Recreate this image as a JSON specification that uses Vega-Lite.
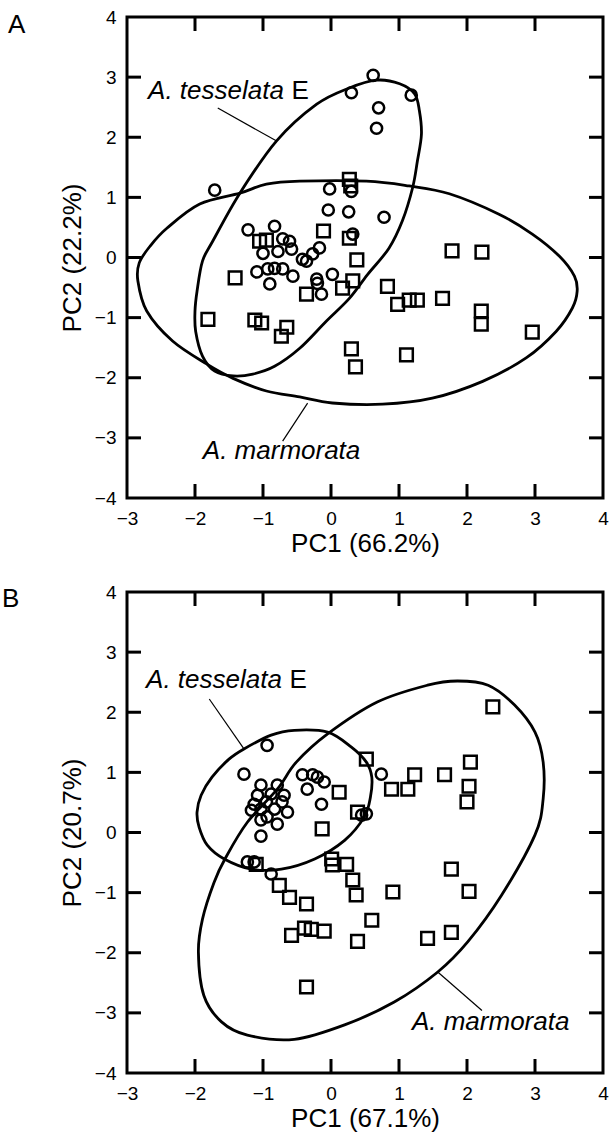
{
  "$schema": "https://vega.github.io/schema/vega-lite/v6.json",
  "padding": {"left": 0, "top": 6, "right": 0, "bottom": 0},
  "spacing": 23,
  "columns": 1,
  "align": "none",
  "config": {
    "font": "Liberation Sans",
    "view": {"stroke": "black", "strokeWidth": 3},
    "axis": {
      "ticks": false, "domain": false, "grid": false, "format": "d",
      "labelFontSize": 19, "labelColor": "black", "labelFont": "Liberation Sans",
      "titleFont": "Liberation Sans", "titleFontSize": 26, "titleFontWeight": "normal", "titleColor": "black",
      "labelPadding": 11, "labelFlush": false, "labelOverlap": false
    }
  },
  "datasets": {
    "tx": [{"v":-2},{"v":-1},{"v":0},{"v":1},{"v":2},{"v":3}],
    "ty": [{"v":-3},{"v":-2},{"v":-1},{"v":0},{"v":1},{"v":2},{"v":3}],
    "ellA": [
      {"e":"t","i":0,"x":0.67,"y":2.95},{"e":"t","i":1,"x":1.01,"y":2.89},{"e":"t","i":2,"x":1.23,"y":2.72},{"e":"t","i":3,"x":1.30,"y":2.44},{"e":"t","i":4,"x":1.33,"y":2.05},{"e":"t","i":5,"x":1.27,"y":1.60},{"e":"t","i":6,"x":1.20,"y":1.16},{"e":"t","i":7,"x":1.05,"y":0.61},{"e":"t","i":8,"x":0.85,"y":0.15},{"e":"t","i":9,"x":0.54,"y":-0.28},{"e":"t","i":10,"x":0.27,"y":-0.68},{"e":"t","i":11,"x":-0.07,"y":-1.06},{"e":"t","i":12,"x":-0.46,"y":-1.51},{"e":"t","i":13,"x":-0.83,"y":-1.81},{"e":"t","i":14,"x":-1.15,"y":-1.94},{"e":"t","i":15,"x":-1.44,"y":-1.97},{"e":"t","i":16,"x":-1.71,"y":-1.89},{"e":"t","i":17,"x":-1.89,"y":-1.64},{"e":"t","i":18,"x":-1.99,"y":-1.23},{"e":"t","i":19,"x":-2.00,"y":-0.89},{"e":"t","i":20,"x":-1.97,"y":-0.56},{"e":"t","i":21,"x":-1.89,"y":-0.06},{"e":"t","i":22,"x":-1.74,"y":0.27},{"e":"t","i":23,"x":-1.34,"y":1.07},{"e":"t","i":24,"x":-0.80,"y":1.94},{"e":"t","i":25,"x":-0.21,"y":2.55},{"e":"t","i":26,"x":0.27,"y":2.82},
      {"e":"m","i":0,"x":-0.46,"y":1.27},{"e":"m","i":1,"x":0.52,"y":1.27},{"e":"m","i":2,"x":1.15,"y":1.19},{"e":"m","i":3,"x":1.74,"y":1.06},{"e":"m","i":4,"x":2.47,"y":0.72},{"e":"m","i":5,"x":2.96,"y":0.39},{"e":"m","i":6,"x":3.36,"y":0.02},{"e":"m","i":7,"x":3.58,"y":-0.31},{"e":"m","i":8,"x":3.62,"y":-0.56},{"e":"m","i":9,"x":3.55,"y":-0.84},{"e":"m","i":10,"x":3.31,"y":-1.23},{"e":"m","i":11,"x":2.87,"y":-1.67},{"e":"m","i":12,"x":2.23,"y":-2.06},{"e":"m","i":13,"x":1.49,"y":-2.34},{"e":"m","i":14,"x":0.76,"y":-2.44},{"e":"m","i":15,"x":0.02,"y":-2.42},{"e":"m","i":16,"x":-0.46,"y":-2.32},{"e":"m","i":17,"x":-0.95,"y":-2.22},{"e":"m","i":18,"x":-1.44,"y":-2.01},{"e":"m","i":19,"x":-1.83,"y":-1.77},{"e":"m","i":20,"x":-2.33,"y":-1.39},{"e":"m","i":21,"x":-2.71,"y":-0.89},{"e":"m","i":22,"x":-2.84,"y":-0.39},{"e":"m","i":23,"x":-2.82,"y":-0.09},{"e":"m","i":24,"x":-2.66,"y":0.19},{"e":"m","i":25,"x":-2.41,"y":0.49},{"e":"m","i":26,"x":-1.93,"y":0.89},{"e":"m","i":27,"x":-1.34,"y":1.07},{"e":"m","i":28,"x":-0.95,"y":1.22}
    ],
    "ellB": [
      {"e":"t","i":0,"x":-0.54,"y":1.70},{"e":"t","i":1,"x":-0.05,"y":1.67},{"e":"t","i":2,"x":0.30,"y":1.42},{"e":"t","i":3,"x":0.52,"y":1.17},{"e":"t","i":4,"x":0.60,"y":0.92},{"e":"t","i":5,"x":0.58,"y":0.59},{"e":"t","i":6,"x":0.49,"y":0.26},{"e":"t","i":7,"x":0.20,"y":-0.13},{"e":"t","i":8,"x":-0.24,"y":-0.44},{"e":"t","i":9,"x":-0.73,"y":-0.61},{"e":"t","i":10,"x":-1.17,"y":-0.61},{"e":"t","i":11,"x":-1.57,"y":-0.44},{"e":"t","i":12,"x":-1.82,"y":-0.21},{"e":"t","i":13,"x":-1.94,"y":0.09},{"e":"t","i":14,"x":-1.97,"y":0.34},{"e":"t","i":15,"x":-1.91,"y":0.62},{"e":"t","i":16,"x":-1.75,"y":0.92},{"e":"t","i":17,"x":-1.50,"y":1.22},{"e":"t","i":18,"x":-1.28,"y":1.39},{"e":"t","i":19,"x":-0.88,"y":1.62},
      {"e":"m","i":0,"x":1.86,"y":2.52},{"e":"m","i":1,"x":2.31,"y":2.45},{"e":"m","i":2,"x":2.70,"y":2.12},{"e":"m","i":3,"x":3.00,"y":1.67},{"e":"m","i":4,"x":3.12,"y":1.17},{"e":"m","i":5,"x":3.12,"y":0.56},{"e":"m","i":6,"x":3.00,"y":-0.04},{"e":"m","i":7,"x":2.51,"y":-1.04},{"e":"m","i":8,"x":2.01,"y":-1.82},{"e":"m","i":9,"x":1.57,"y":-2.32},{"e":"m","i":10,"x":0.93,"y":-2.82},{"e":"m","i":11,"x":0.20,"y":-3.20},{"e":"m","i":12,"x":-0.54,"y":-3.44},{"e":"m","i":13,"x":-1.23,"y":-3.37},{"e":"m","i":14,"x":-1.61,"y":-3.15},{"e":"m","i":15,"x":-1.87,"y":-2.71},{"e":"m","i":16,"x":-1.95,"y":-1.99},{"e":"m","i":17,"x":-1.89,"y":-1.44},{"e":"m","i":18,"x":-1.72,"y":-0.83},{"e":"m","i":19,"x":-1.55,"y":-0.42},{"e":"m","i":20,"x":-1.23,"y":0.17},{"e":"m","i":21,"x":-0.79,"y":0.72},{"e":"m","i":22,"x":-0.51,"y":1.17},{"e":"m","i":23,"x":-0.05,"y":1.64},{"e":"m","i":24,"x":0.68,"y":2.17},{"e":"m","i":25,"x":1.42,"y":2.45}
    ],
    "ptsA": [
      {"g":"t","x":0.62,"y":3.03},{"g":"t","x":0.30,"y":2.74},{"g":"t","x":1.18,"y":2.70},{"g":"t","x":0.70,"y":2.49},{"g":"t","x":0.67,"y":2.15},{"g":"t","x":-1.71,"y":1.12},{"g":"t","x":-0.02,"y":1.14},{"g":"t","x":0.30,"y":1.10},{"g":"t","x":-0.04,"y":0.79},{"g":"t","x":0.26,"y":0.76},{"g":"t","x":0.78,"y":0.67},{"g":"t","x":0.32,"y":0.39},{"g":"t","x":-0.17,"y":0.16},{"g":"t","x":-0.27,"y":0.06},{"g":"t","x":-1.22,"y":0.46},{"g":"t","x":-0.83,"y":0.52},{"g":"t","x":-0.71,"y":0.31},{"g":"t","x":-0.61,"y":0.27},{"g":"t","x":-0.58,"y":0.14},{"g":"t","x":-1.00,"y":0.07},{"g":"t","x":-0.78,"y":0.10},{"g":"t","x":-0.42,"y":-0.03},{"g":"t","x":-1.09,"y":-0.24},{"g":"t","x":-0.93,"y":-0.19},{"g":"t","x":-0.83,"y":-0.18},{"g":"t","x":-0.71,"y":-0.19},{"g":"t","x":-0.56,"y":-0.31},{"g":"t","x":-0.90,"y":-0.44},{"g":"t","x":-0.21,"y":-0.36},{"g":"t","x":0.02,"y":-0.28},{"g":"t","x":-0.14,"y":-0.61},{"g":"t","x":-0.36,"y":-0.06},{"g":"t","x":-0.20,"y":-0.43},
      {"g":"m","x":0.27,"y":1.30},{"g":"m","x":0.29,"y":1.19},{"g":"m","x":-0.11,"y":0.44},{"g":"m","x":0.27,"y":0.32},{"g":"m","x":1.78,"y":0.11},{"g":"m","x":2.22,"y":0.09},{"g":"m","x":0.38,"y":-0.04},{"g":"m","x":0.32,"y":-0.39},{"g":"m","x":0.17,"y":-0.51},{"g":"m","x":-0.36,"y":-0.61},{"g":"m","x":0.83,"y":-0.48},{"g":"m","x":0.98,"y":-0.78},{"g":"m","x":1.15,"y":-0.71},{"g":"m","x":1.27,"y":-0.71},{"g":"m","x":1.64,"y":-0.68},{"g":"m","x":2.21,"y":-0.89},{"g":"m","x":2.21,"y":-1.11},{"g":"m","x":2.96,"y":-1.24},{"g":"m","x":0.30,"y":-1.52},{"g":"m","x":0.36,"y":-1.82},{"g":"m","x":1.11,"y":-1.62},{"g":"m","x":-1.41,"y":-0.34},{"g":"m","x":-1.81,"y":-1.03},{"g":"m","x":-1.12,"y":-1.04},{"g":"m","x":-1.02,"y":-1.09},{"g":"m","x":-0.65,"y":-1.16},{"g":"m","x":-0.73,"y":-1.31},{"g":"m","x":-1.05,"y":0.27},{"g":"m","x":-0.95,"y":0.29}
    ],
    "ptsB": [
      {"g":"t","x":-0.94,"y":1.45},{"g":"t","x":-1.28,"y":0.97},{"g":"t","x":-1.03,"y":0.79},{"g":"t","x":-0.79,"y":0.79},{"g":"t","x":-1.08,"y":0.62},{"g":"t","x":-0.88,"y":0.64},{"g":"t","x":-0.69,"y":0.62},{"g":"t","x":-1.13,"y":0.47},{"g":"t","x":-0.95,"y":0.51},{"g":"t","x":-0.72,"y":0.51},{"g":"t","x":-1.17,"y":0.37},{"g":"t","x":-1.03,"y":0.39},{"g":"t","x":-0.83,"y":0.39},{"g":"t","x":-0.64,"y":0.34},{"g":"t","x":-0.94,"y":0.26},{"g":"t","x":-0.79,"y":0.14},{"g":"t","x":-1.03,"y":0.21},{"g":"t","x":-1.03,"y":-0.06},{"g":"t","x":-0.42,"y":0.96},{"g":"t","x":-0.27,"y":0.96},{"g":"t","x":-0.20,"y":0.92},{"g":"t","x":-0.10,"y":0.84},{"g":"t","x":-0.35,"y":0.72},{"g":"t","x":-0.14,"y":0.47},{"g":"t","x":0.52,"y":0.31},{"g":"t","x":0.45,"y":0.29},{"g":"t","x":-1.23,"y":-0.49},{"g":"t","x":-1.13,"y":-0.49},{"g":"t","x":-0.88,"y":-0.69},{"g":"t","x":0.74,"y":0.97},
      {"g":"m","x":0.52,"y":1.22},{"g":"m","x":0.12,"y":0.67},{"g":"m","x":0.89,"y":0.72},{"g":"m","x":1.13,"y":0.72},{"g":"m","x":1.23,"y":0.96},{"g":"m","x":1.67,"y":0.96},{"g":"m","x":2.05,"y":1.17},{"g":"m","x":2.03,"y":0.77},{"g":"m","x":2.00,"y":0.51},{"g":"m","x":2.38,"y":2.09},{"g":"m","x":0.39,"y":0.34},{"g":"m","x":-0.13,"y":0.06},{"g":"m","x":-1.10,"y":-0.53},{"g":"m","x":0.01,"y":-0.44},{"g":"m","x":0.02,"y":-0.54},{"g":"m","x":0.23,"y":-0.53},{"g":"m","x":0.32,"y":-0.79},{"g":"m","x":-0.76,"y":-0.88},{"g":"m","x":-0.61,"y":-1.08},{"g":"m","x":-0.36,"y":-1.19},{"g":"m","x":0.37,"y":-1.04},{"g":"m","x":0.91,"y":-0.99},{"g":"m","x":0.60,"y":-1.46},{"g":"m","x":-0.39,"y":-1.59},{"g":"m","x":-0.29,"y":-1.61},{"g":"m","x":-0.10,"y":-1.64},{"g":"m","x":-0.58,"y":-1.71},{"g":"m","x":0.39,"y":-1.81},{"g":"m","x":1.42,"y":-1.76},{"g":"m","x":1.77,"y":-1.66},{"g":"m","x":1.77,"y":-0.61},{"g":"m","x":2.03,"y":-0.98},{"g":"m","x":-0.36,"y":-2.57}
    ],
    "rulesA": [{"x":-1.665,"y":2.486,"x2":-0.799,"y2":1.937},{"x":-0.344,"y":-2.423,"x2":-0.711,"y2":-3.055}],
    "rulesB": [{"x":-1.79,"y":2.22,"x2":-1.28,"y2":1.39},{"x":1.57,"y":-2.32,"x2":2.22,"y2":-2.96}],
    "labItA": [{"t":"A. tesselata","x":-2.69,"y":2.64},{"t":"A. marmorata","x":-1.885,"y":-3.35}],
    "labNA": [{"t":"E","x":-0.58,"y":2.64}],
    "labItB": [{"t":"A. tesselata","x":-2.72,"y":2.40},{"t":"A. marmorata","x":1.19,"y":-3.29}],
    "labNB": [{"t":"E","x":-0.61,"y":2.40}]
  },
  "concat": [
    {
      "width": 476, "height": 481,
      "title": {"text": "A", "anchor": "start", "frame": "group", "dx": -119, "dy": 51, "offset": 0, "baseline": "alphabetic", "fontSize": 26, "font": "Liberation Sans", "fontWeight": "normal", "color": "black"},
      "layer": [
        {"data": {"name": "ptsA"}, "transform": [{"filter": "datum.g == 't'"}],
         "mark": {"type": "point", "shape": "circle", "filled": false, "stroke": "black", "strokeWidth": 2.5, "size": 125, "opacity": 1},
         "encoding": {
           "x": {"field": "x", "type": "quantitative", "scale": {"domain": [-3, 4], "nice": false, "zero": false}, "axis": {"orient": "bottom", "title": "PC1 (66.2%)", "values": [-3,-2,-1,0,1,2,3,4], "titlePadding": 2}},
           "y": {"field": "y", "type": "quantitative", "scale": {"domain": [-4, 4], "nice": false, "zero": false}, "axis": {"orient": "left", "title": "PC2 (22.2%)", "values": [-4,-3,-2,-1,0,1,2,3,4], "titlePadding": 9}}}},
        {"data": {"name": "ptsA"}, "transform": [{"filter": "datum.g == 'm'"}],
         "mark": {"type": "point", "shape": "square", "filled": false, "stroke": "black", "strokeWidth": 2.5, "size": 160, "opacity": 1},
         "encoding": {
           "x": {"field": "x", "type": "quantitative"},
           "y": {"field": "y", "type": "quantitative"}}},
        {"data": {"name": "ellA"}, "mark": {"type": "line", "interpolate": "cardinal-closed", "stroke": "black", "strokeWidth": 2.8},
         "encoding": {
           "x": {"field": "x", "type": "quantitative"},
           "y": {"field": "y", "type": "quantitative"},
           "detail": {"field": "e"}, "order": {"field": "i", "type": "quantitative"}}},
        {"data": {"name": "rulesA"}, "mark": {"type": "rule", "stroke": "black", "strokeWidth": 1.2},
         "encoding": {
           "x": {"field": "x", "type": "quantitative"},
           "y": {"field": "y", "type": "quantitative"},
           "x2": {"field": "x2"}, "y2": {"field": "y2"}}},
        {"data": {"name": "tx"}, "mark": {"type": "tick", "orient": "vertical", "color": "black", "opacity": 1, "size": 14, "thickness": 3, "yOffset": 7},
         "encoding": {
           "x": {"field": "v", "type": "quantitative"},
           "y": {"datum": 4, "type": "quantitative"}}},
        {"data": {"name": "tx"}, "mark": {"type": "tick", "orient": "vertical", "color": "black", "opacity": 1, "size": 14, "thickness": 3, "yOffset": -7},
         "encoding": {
           "x": {"field": "v", "type": "quantitative"},
           "y": {"datum": -4, "type": "quantitative"}}},
        {"data": {"name": "ty"}, "mark": {"type": "tick", "orient": "horizontal", "color": "black", "opacity": 1, "size": 14, "thickness": 3, "xOffset": 7},
         "encoding": {
           "y": {"field": "v", "type": "quantitative"},
           "x": {"datum": -3, "type": "quantitative"}}},
        {"data": {"name": "ty"}, "mark": {"type": "tick", "orient": "horizontal", "color": "black", "opacity": 1, "size": 14, "thickness": 3, "xOffset": -7},
         "encoding": {
           "y": {"field": "v", "type": "quantitative"},
           "x": {"datum": 4, "type": "quantitative"}}},
        {"data": {"name": "labItA"}, "mark": {"type": "text", "fontStyle": "italic", "fontSize": 26, "align": "left", "baseline": "alphabetic", "color": "black", "font": "Liberation Sans"},
         "encoding": {
           "x": {"field": "x", "type": "quantitative"},
           "y": {"field": "y", "type": "quantitative"},
           "text": {"field": "t"}}},
        {"data": {"name": "labNA"}, "mark": {"type": "text", "fontSize": 26, "align": "left", "baseline": "alphabetic", "color": "black", "font": "Liberation Sans"},
         "encoding": {
           "x": {"field": "x", "type": "quantitative"},
           "y": {"field": "y", "type": "quantitative"},
           "text": {"field": "t"}}}
      ]
    },
    {
      "width": 476, "height": 481,
      "title": {"text": "B", "anchor": "start", "frame": "group", "dx": -125, "dy": 50, "offset": 0, "baseline": "alphabetic", "fontSize": 26, "font": "Liberation Sans", "fontWeight": "normal", "color": "black"},
      "layer": [
        {"data": {"name": "ptsB"}, "transform": [{"filter": "datum.g == 't'"}],
         "mark": {"type": "point", "shape": "circle", "filled": false, "stroke": "black", "strokeWidth": 2.5, "size": 125, "opacity": 1},
         "encoding": {
           "x": {"field": "x", "type": "quantitative", "scale": {"domain": [-3, 4], "nice": false, "zero": false}, "axis": {"orient": "bottom", "title": "PC1 (67.1%)", "values": [-3,-2,-1,0,1,2,3,4], "titlePadding": 2}},
           "y": {"field": "y", "type": "quantitative", "scale": {"domain": [-4, 4], "nice": false, "zero": false}, "axis": {"orient": "left", "title": "PC2 (20.7%)", "values": [-4,-3,-2,-1,0,1,2,3,4], "titlePadding": 9}}}},
        {"data": {"name": "ptsB"}, "transform": [{"filter": "datum.g == 'm'"}],
         "mark": {"type": "point", "shape": "square", "filled": false, "stroke": "black", "strokeWidth": 2.5, "size": 160, "opacity": 1},
         "encoding": {
           "x": {"field": "x", "type": "quantitative"},
           "y": {"field": "y", "type": "quantitative"}}},
        {"data": {"name": "ellB"}, "mark": {"type": "line", "interpolate": "cardinal-closed", "stroke": "black", "strokeWidth": 2.8},
         "encoding": {
           "x": {"field": "x", "type": "quantitative"},
           "y": {"field": "y", "type": "quantitative"},
           "detail": {"field": "e"}, "order": {"field": "i", "type": "quantitative"}}},
        {"data": {"name": "rulesB"}, "mark": {"type": "rule", "stroke": "black", "strokeWidth": 1.2},
         "encoding": {
           "x": {"field": "x", "type": "quantitative"},
           "y": {"field": "y", "type": "quantitative"},
           "x2": {"field": "x2"}, "y2": {"field": "y2"}}},
        {"data": {"name": "tx"}, "mark": {"type": "tick", "orient": "vertical", "color": "black", "opacity": 1, "size": 14, "thickness": 3, "yOffset": 7},
         "encoding": {
           "x": {"field": "v", "type": "quantitative"},
           "y": {"datum": 4, "type": "quantitative"}}},
        {"data": {"name": "tx"}, "mark": {"type": "tick", "orient": "vertical", "color": "black", "opacity": 1, "size": 14, "thickness": 3, "yOffset": -7},
         "encoding": {
           "x": {"field": "v", "type": "quantitative"},
           "y": {"datum": -4, "type": "quantitative"}}},
        {"data": {"name": "ty"}, "mark": {"type": "tick", "orient": "horizontal", "color": "black", "opacity": 1, "size": 14, "thickness": 3, "xOffset": 7},
         "encoding": {
           "y": {"field": "v", "type": "quantitative"},
           "x": {"datum": -3, "type": "quantitative"}}},
        {"data": {"name": "ty"}, "mark": {"type": "tick", "orient": "horizontal", "color": "black", "opacity": 1, "size": 14, "thickness": 3, "xOffset": -7},
         "encoding": {
           "y": {"field": "v", "type": "quantitative"},
           "x": {"datum": 4, "type": "quantitative"}}},
        {"data": {"name": "labItB"}, "mark": {"type": "text", "fontStyle": "italic", "fontSize": 26, "align": "left", "baseline": "alphabetic", "color": "black", "font": "Liberation Sans"},
         "encoding": {
           "x": {"field": "x", "type": "quantitative"},
           "y": {"field": "y", "type": "quantitative"},
           "text": {"field": "t"}}},
        {"data": {"name": "labNB"}, "mark": {"type": "text", "fontSize": 26, "align": "left", "baseline": "alphabetic", "color": "black", "font": "Liberation Sans"},
         "encoding": {
           "x": {"field": "x", "type": "quantitative"},
           "y": {"field": "y", "type": "quantitative"},
           "text": {"field": "t"}}}
      ]
    }
  ]
}
